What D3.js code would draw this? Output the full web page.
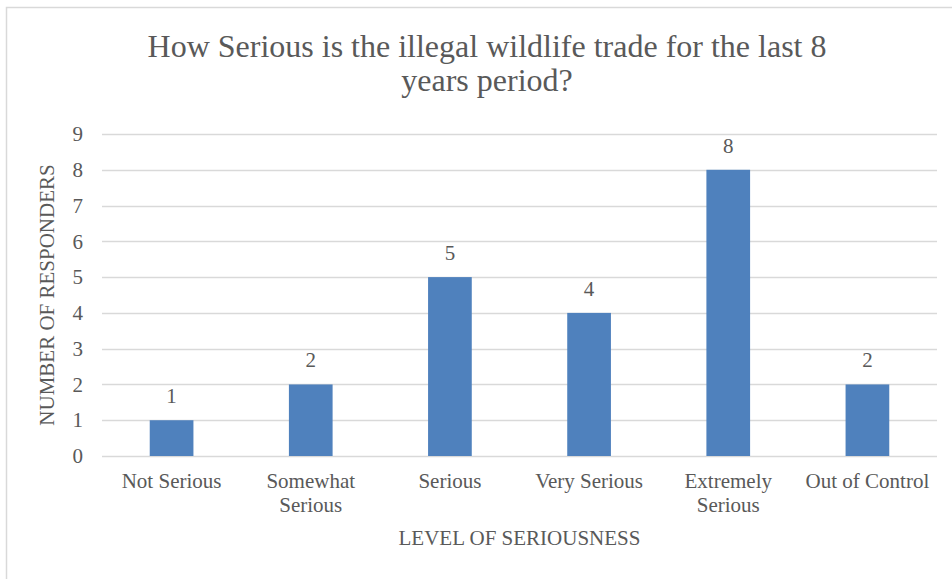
<!DOCTYPE html>
<html>
<head>
<meta charset="utf-8">
<script src="https://cdn.jsdelivr.net/npm/d3@7"></script>
<style>
  html, body { margin: 0; padding: 0; background: #fff; }
</style>
</head>
<body>
<svg id="chart" width="952" height="579"></svg>
<script>
const categories = ["Not Serious", "Somewhat Serious", "Serious", "Very Serious", "Extremely Serious", "Out of Control"];
const responders = [1, 2, 5, 4, 8, 2];
const yTicks = [0, 1, 2, 3, 4, 5, 6, 7, 8, 9];
const titleLines = ["How Serious is the illegal wildlife trade for the last 8", "years period?"];
const xTitle = "LEVEL OF SERIOUSNESS";
const yTitle = "NUMBER OF RESPONDERS";

const W = 952, H = 579;
const margin = { top: 134, right: 15, bottom: 123, left: 102 };
const innerW = W - margin.left - margin.right;
const innerH = H - margin.top - margin.bottom;
const grid = "#d9d9d9";
const ink = "#595959";
const serif = "'Liberation Serif', 'Times New Roman', serif";

const svg = d3.select("#chart");

function styleText(sel, size) {
  return sel.style("font-family", serif).style("font-size", size + "px").style("fill", ink);
}

// chart area border
svg.append("rect")
  .attr("x", 6.5).attr("y", 7.5)
  .attr("width", 970).attr("height", 600)
  .attr("fill", "none").attr("stroke", grid).attr("stroke-width", 1.5);

// title
styleText(svg.append("text").attr("text-anchor", "middle"), 32)
  .selectAll("tspan").data(titleLines).join("tspan")
  .attr("x", 487)
  .attr("y", (d, i) => 57 + i * 34)
  .text(d => d);

const g = svg.append("g").attr("transform", `translate(${margin.left},${margin.top})`);

const x = d3.scaleBand().domain(categories).range([0, innerW])
  .paddingInner(0.686).paddingOuter(0.343);
const y = d3.scaleLinear().domain([0, 9]).range([innerH, 0]);

// horizontal gridlines
g.append("g")
  .selectAll("line").data(yTicks).join("line")
  .attr("x1", 0).attr("x2", innerW)
  .attr("y1", d => Math.round(y(d)) + 0.5).attr("y2", d => Math.round(y(d)) + 0.5)
  .attr("stroke", grid).attr("stroke-width", 1.5);

// y axis labels
const yAxis = g.append("g")
  .attr("transform", "translate(-19,0)")
  .call(d3.axisLeft(y).tickValues(yTicks).tickSize(0).tickPadding(0).tickFormat(d3.format("d")));
yAxis.select(".domain").remove();
styleText(yAxis.selectAll("text"), 21);

// bars
g.append("g")
  .selectAll("rect").data(responders).join("rect")
  .attr("x", (d, i) => x(categories[i]))
  .attr("y", d => y(d))
  .attr("width", x.bandwidth())
  .attr("height", d => innerH - y(d))
  .attr("fill", "#4f81bd");

// data labels
styleText(g.append("g")
  .selectAll("text").data(responders).join("text")
  .attr("x", (d, i) => x(categories[i]) + x.bandwidth() / 2)
  .attr("y", d => y(d) - 17)
  .attr("text-anchor", "middle"), 21)
  .text(d => d);

// x axis category labels with wrapping
const xAxis = g.append("g")
  .attr("transform", `translate(0,${innerH})`)
  .call(d3.axisBottom(x).tickSize(0).tickPadding(0));
xAxis.select(".domain").remove();
styleText(xAxis.selectAll("text"), 21)
  .attr("dy", null).attr("y", 32)
  .each(function (d) {
    const t = d3.select(this);
    const maxW = x.step() - 6;
    if (this.getComputedTextLength() <= maxW) return;
    const words = d.split(" ");
    t.text(null);
    let line = [], lineNo = 0;
    let tspan = t.append("tspan").attr("x", 0).attr("y", 32);
    words.forEach(w => {
      line.push(w);
      tspan.text(line.join(" "));
      if (tspan.node().getComputedTextLength() > maxW && line.length > 1) {
        line.pop();
        tspan.text(line.join(" "));
        line = [w];
        lineNo++;
        tspan = t.append("tspan").attr("x", 0).attr("y", 32 + lineNo * 24).text(w);
      }
    });
  });

// axis titles
styleText(svg.append("text")
  .attr("x", margin.left + innerW / 2).attr("y", 545)
  .attr("text-anchor", "middle"), 21)
  .text(xTitle);

styleText(svg.append("text")
  .attr("transform", `translate(54,${margin.top + innerH / 2}) rotate(-90)`)
  .attr("text-anchor", "middle"), 21)
  .text(yTitle);
</script>
</body>
</html>
